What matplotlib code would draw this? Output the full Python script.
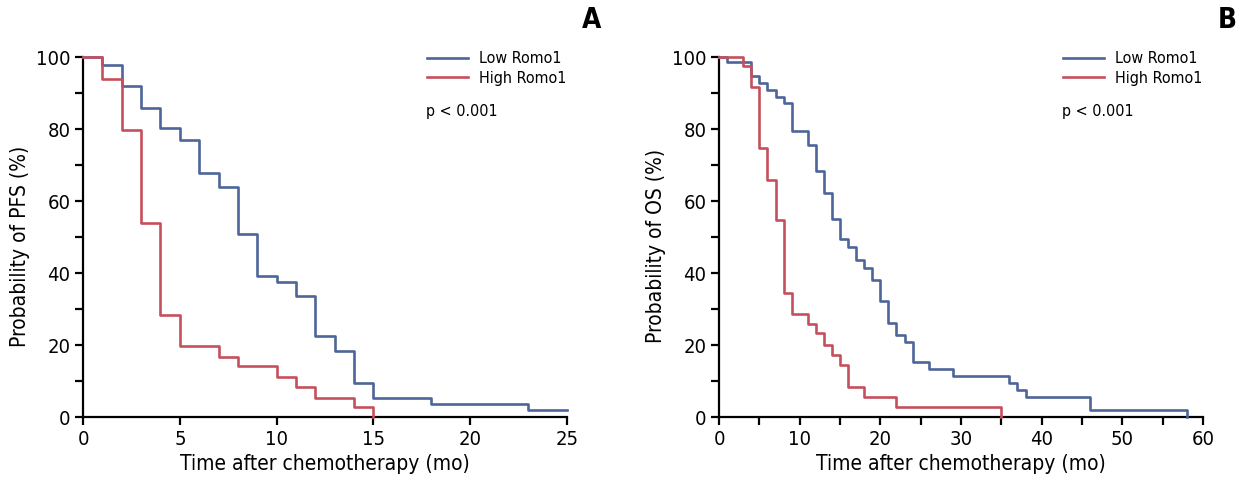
import matplotlib
matplotlib.use('Agg')
import matplotlib.pyplot as plt
import matplotlib.ticker as ticker

plt.rcParams['font.family'] = ['Liberation Sans Narrow', 'DejaVu Sans']
plt.rcParams['font.stretch'] = 'condensed'

# PFS (panel A)
pfs_low_t = [0, 1, 2, 3, 4, 5, 6, 7, 8, 9, 10, 11, 12, 13, 14, 15, 18, 23, 25]
pfs_low_s = [100, 98, 92, 86, 80.5, 77, 67.8, 64, 50.8, 39.2, 37.7, 33.7, 22.6, 18.4, 9.4, 5.3, 3.6, 2.0, 2.0]
pfs_high_t = [0, 1, 2, 3, 4, 5, 7, 8, 10, 11, 12, 14, 15]
pfs_high_s = [100, 94, 79.8, 54.1, 28.4, 19.8, 16.7, 14.3, 11.1, 8.3, 5.3, 2.8, 0]

# OS (panel B)
os_low_t = [0, 1, 4, 5, 6, 7, 8, 9, 11, 12, 13, 14, 15, 16, 17, 18, 19, 20, 21, 22, 23, 24,
            26, 29, 36, 37, 38, 46, 58]
os_low_s = [100, 98.8, 94.8, 92.8, 90.9, 89.1, 87.2, 79.6, 75.6, 68.4, 62.4, 55.0, 49.4, 47.4,
            43.7, 41.6, 38.1, 32.3, 26.3, 22.9, 21.0, 15.3, 13.3, 11.6, 9.6, 7.7, 5.7, 2.0, 0]
os_high_t = [0, 3, 4, 5, 6, 7, 8, 9, 11, 12, 13, 14, 15, 16, 18, 22, 35]
os_high_s = [100, 97.6, 91.8, 74.7, 65.9, 54.8, 34.4, 28.7, 25.9, 23.5, 20.1, 17.3, 14.5, 8.5,
             5.7, 2.9, 0]

labels = ['Low Romo1', 'High Romo1']
blue = '#4d6598'
red = '#c4505e'

fig = plt.figure(figsize=(12.41, 4.92), dpi=100)
axA = fig.add_axes([0.0669, 0.1518, 0.39, 0.7317])
axB = fig.add_axes([0.5794, 0.1518, 0.39, 0.7317])

panels = [
    (axA, pfs_low_t, pfs_low_s, pfs_high_t, pfs_high_s, 25, 5, 5, 'Probability of PFS (%)', 'A'),
    (axB, os_low_t, os_low_s, os_high_t, os_high_s, 60, 10, 5, 'Probability of OS (%)', 'B'),
]

for ax, lt, ls, ht, hs, xmax, xmaj, xmin, ylab, tag in panels:
    ax.step(lt, ls, where='post', color=blue, lw=1.9, clip_on=False, label=labels[0], zorder=3)
    ax.step(ht, hs, where='post', color=red, lw=1.9, clip_on=False, label=labels[1], zorder=3)
    ax.set_xlim(0, xmax)
    ax.set_ylim(0, 100)
    ax.xaxis.set_major_locator(ticker.MultipleLocator(xmaj))
    ax.xaxis.set_minor_locator(ticker.MultipleLocator(xmin))
    ax.yaxis.set_major_locator(ticker.MultipleLocator(20))
    ax.yaxis.set_minor_locator(ticker.MultipleLocator(10))
    for s in ['top', 'right']:
        ax.spines[s].set_visible(False)
    for s in ['left', 'bottom']:
        ax.spines[s].set_linewidth(1.6)
    ax.tick_params(which='both', direction='out', length=6, width=1.6, labelsize=14.5, pad=3)
    ax.set_xlabel('Time after chemotherapy (mo)', fontsize=15, labelpad=4)
    ax.set_ylabel(ylab, fontsize=15)
    ax.yaxis.set_label_coords(-0.11, 0.475)
    ax.legend(loc='upper left', bbox_to_anchor=(0.697, 1.035), frameon=False, fontsize=11.5,
              handlelength=2.6, handletextpad=0.65, labelspacing=0.3, borderaxespad=0)
    ax.text(0.709, 0.85, 'p < 0.001', transform=ax.transAxes, fontsize=11.5, va='center', ha='left')
    ax.text(1.07, 1.105, tag, transform=ax.transAxes, fontsize=20, fontweight='bold',
            va='center', ha='right')

fig.savefig('out.png', dpi=100)
